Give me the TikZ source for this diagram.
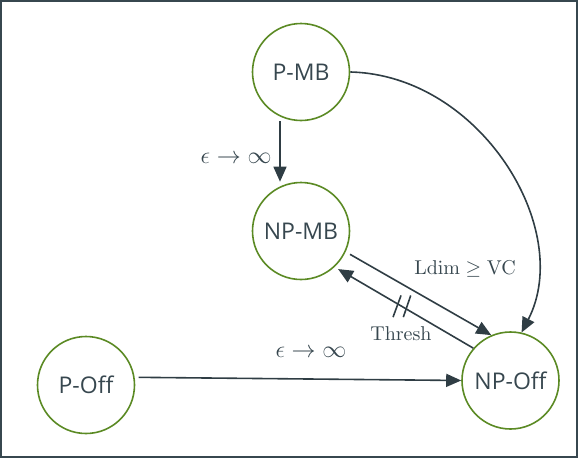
\documentclass[tikz,border=0pt]{standalone}
\usepackage[no-math]{fontspec}
\setmainfont{Open Sans}
\usetikzlibrary{arrows.meta}
\definecolor{nodegreen}{HTML}{5B8A24}
\definecolor{ink}{HTML}{37474F}
\definecolor{wire}{HTML}{2F3D44}
\begin{document}
\begin{tikzpicture}[x=0.5pt,y=-0.5pt,
  state/.style={circle,draw=nodegreen,line width=0.8pt,minimum size=48.5pt,inner sep=0pt,text=ink,font=\fontsize{11.5}{13}\selectfont},
  edge/.style={draw=wire,line width=0.8pt,-{Triangle[length=7.5pt,width=6.5pt]}},
  lbl/.style={text=ink,font=\fontsize{10}{12}\selectfont},
  biglbl/.style={text=ink,font=\fontsize{12}{14}\selectfont}]
\useasboundingbox (0,0) rectangle (579,461);
\draw[ink,line width=1pt] (1,1) rectangle (577,457);
\node[state] (pmb) at (301,72) {P-MB};
\node[state] (npmb) at (301,231) {NP-MB};
\node[state] (poff) at (86,385) {P-Off};
\node[state] (npoff) at (510.5,380.5) {NP-Off};
% P-MB -> NP-MB
\draw[edge] ([xshift=-10.5pt]pmb.south) -- ([xshift=-10.5pt]npmb.north)
  node[biglbl,pos=0.62,left=0.5pt] {$\epsilon\to\infty$};
% P-MB -> NP-Off (curved)
\draw[edge] (pmb.east) .. controls +(130,3) and +(53,-103) .. (npoff.77);
% NP-MB -> NP-Off
\draw[edge,shorten <=2.5pt] (npmb.-25) -- (npoff.113);
\node[lbl] (ldim) at (465,269) {$\mathrm{Ldim}\geq\mathrm{VC}$};
% NP-Off -> NP-MB
\draw[edge,shorten >=2pt] (npoff.139) -- (npmb.-47) coordinate[pos=0.514] (cut);
\draw[wire,line width=0.8pt] ([shift={(-9,10.7)}]cut) -- ([shift={(-1,-11)}]cut);
\draw[wire,line width=0.8pt] ([shift={(1.3,10.7)}]cut) -- ([shift={(8.7,-11)}]cut);
\node[lbl] (thresh) at ([shift={(-1,27)}]cut) {$\mathrm{Thresh}$};
% P-Off -> NP-Off
\draw[edge,shorten <=2pt] (poff.9) -- (npoff.180);
\node[biglbl] (eps2) at (311,352) {$\epsilon\to\infty$};
\end{tikzpicture}
\end{document}
